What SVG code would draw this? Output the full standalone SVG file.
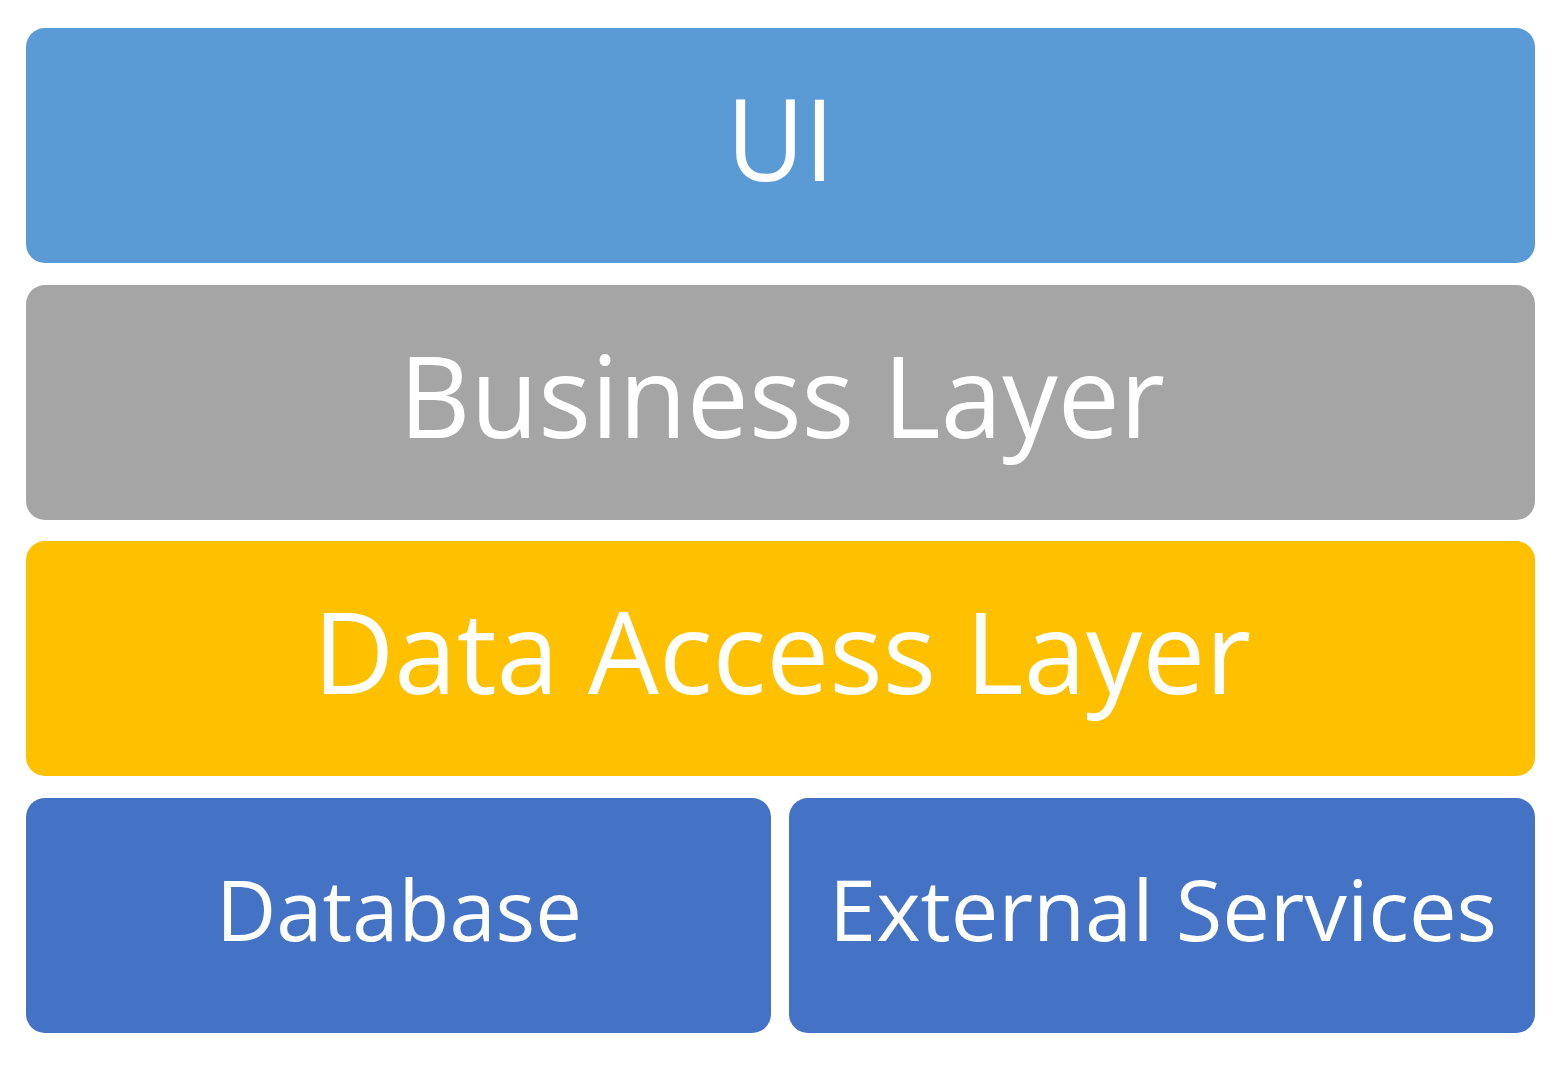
<svg xmlns="http://www.w3.org/2000/svg" width="1566" height="1065" viewBox="0 0 1566 1065">
<style>
.box{stroke:none}
.lbl{font-family:"Open Sans","Noto Sans",sans-serif;fill:#ffffff;text-anchor:middle}
.big{font-size:113px}
.small{font-size:85px}
</style>
<rect width="1566" height="1065" fill="#ffffff"/>
<g id="ui">
<rect class="box" x="26" y="28" width="1509" height="235" rx="19" fill="#5B9BD5"/>
<text class="lbl big" x="780.5" y="181" textLength="108" lengthAdjust="spacingAndGlyphs">UI</text>
</g>
<g id="business">
<rect class="box" x="26" y="285" width="1509" height="235" rx="19" fill="#A5A5A5"/>
<text class="lbl big" x="782" y="438" textLength="766" lengthAdjust="spacingAndGlyphs">Business Layer</text>
</g>
<g id="dataaccess">
<rect class="box" x="26" y="541" width="1509" height="235" rx="19" fill="#FFC000"/>
<text class="lbl big" x="782" y="694" textLength="938" lengthAdjust="spacingAndGlyphs">Data Access Layer</text>
</g>
<g id="database">
<rect class="box" x="26" y="798" width="745" height="235" rx="19" fill="#4472C4"/>
<text class="lbl small" x="399" y="941" textLength="366" lengthAdjust="spacingAndGlyphs">Database</text>
</g>
<g id="external">
<rect class="box" x="789" y="798" width="746" height="235" rx="19" fill="#4472C4"/>
<text class="lbl small" x="1163" y="941" textLength="668" lengthAdjust="spacingAndGlyphs">External Services</text>
</g>
<g id="connectors"></g>
</svg>
